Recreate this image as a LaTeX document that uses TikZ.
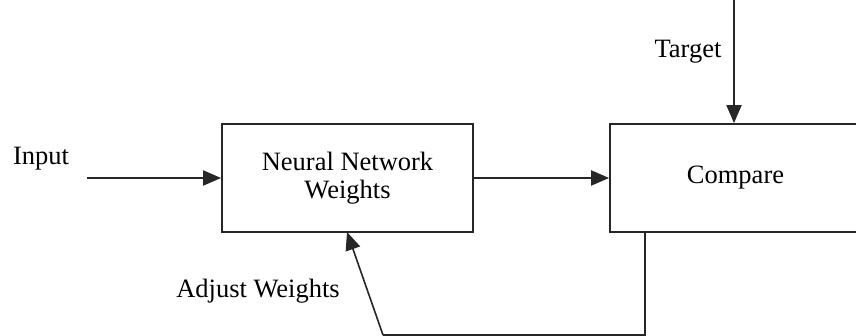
\documentclass[tikz,border=0pt]{standalone}
\usepackage{fontspec}
\setmainfont{Liberation Serif}
\usetikzlibrary{arrows.meta}
\begin{document}
\begin{tikzpicture}[x=1pt,y=-1pt,
  box/.style={draw=black!85,line width=1.8pt,minimum width=251pt,minimum height=108pt,inner sep=0pt,align=center,font=\fontsize{26.5}{28}\selectfont},
  lbl/.style={font=\fontsize{26.5}{28}\selectfont,inner sep=0pt,anchor=base},
  conn/.style={draw=black!85,line width=2pt,-{Triangle[length=18pt,width=15pt]}},
  thin/.style={draw=black!85,line width=1.6pt}]
\useasboundingbox (0,0) rectangle (856,336);
\clip (0,0) rectangle (856,336);
\fill[white] (0,0) rectangle (856,336);
\node[box] (nn) at (347.5,178) {Neural Network\\Weights};
\node[box] (cmp) at (735.5,178) {Compare};
\node[lbl] (input) at (41,165) {Input};
\node[lbl] (target) at (688,58) {Target};
\node[lbl] (adj) at (258,298) {Adjust Weights};
\coordinate (instart) at (87,178);
\coordinate (ttop) at (734,0);
\coordinate (fb1) at (645,335);
\coordinate (fb2) at (383,335);
\coordinate (fbend) at (347,232);
\draw[conn] (instart) -- (nn.west);
\draw[conn] (nn.east) -- (cmp.west);
\draw[conn] (ttop) -- (ttop |- cmp.north);
\draw[thin] (fb1 |- cmp.south) -- (fb1) -- (fb2);
\draw[conn,line width=1.6pt] (fb2) -- (fbend);
\end{tikzpicture}
\end{document}
